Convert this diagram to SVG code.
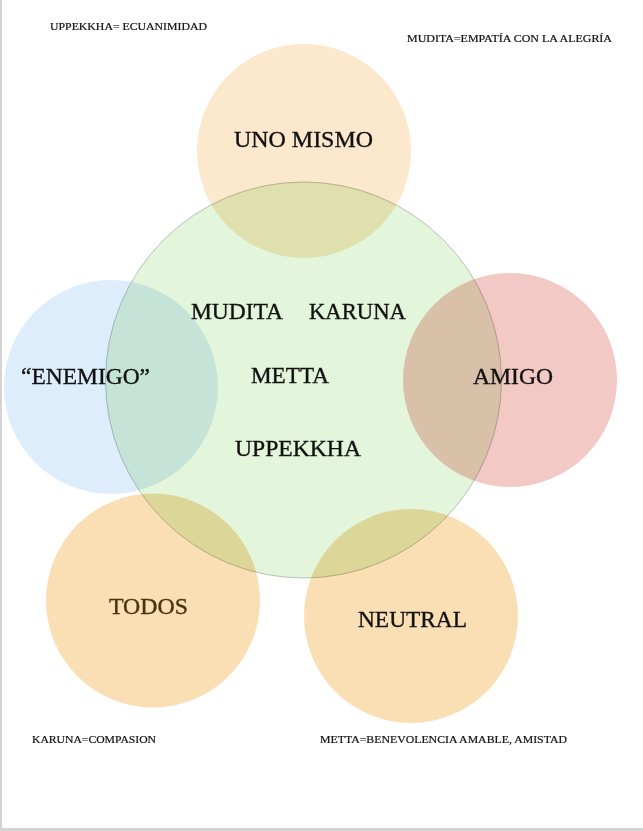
<svg xmlns="http://www.w3.org/2000/svg" width="643" height="831" viewBox="0 0 643 831">
  <style>
    .bg { fill: #ffffff; }
    .edge { fill: #d4d4d4; }
    .c { mix-blend-mode: multiply; stroke: none; }
    .center { fill: #e3f5da; stroke: #b9c2b5; stroke-width: 1; }
    .peach { fill: #fce8cc; }
    .blue { fill: #deedfc; }
    .pink { fill: #f3c9c5; }
    .orange { fill: #f9dfb3; }
    .lbl { font-family: "Liberation Serif", "Times New Roman", serif; font-size: 23.5px; fill: #111111; stroke: #111111; stroke-width: 0.35px; }
    .note { font-family: "Liberation Serif", "Times New Roman", serif; font-size: 11px; fill: #111111; stroke: #111111; stroke-width: 0.2px; }
  </style>
  <rect class="bg" x="0" y="0" width="643" height="831"/>
  <rect class="edge" x="0" y="0" width="2" height="831"/>
  <rect class="edge" x="0" y="828" width="643" height="3"/>

  <g id="center-metta">
    <circle class="center" cx="303.5" cy="380" r="198"/>
    <text class="lbl" x="191" y="319" textLength="92" lengthAdjust="spacingAndGlyphs">MUDITA</text>
    <text class="lbl" x="309" y="319" textLength="97" lengthAdjust="spacingAndGlyphs">KARUNA</text>
    <text class="lbl" x="251" y="383" textLength="78" lengthAdjust="spacingAndGlyphs">METTA</text>
    <text class="lbl" x="235" y="456" textLength="126" lengthAdjust="spacingAndGlyphs">UPPEKKHA</text>
  </g>

  <g id="node-uno-mismo">
    <circle class="c peach" cx="304" cy="151" r="107"/>
    <text class="lbl" x="234" y="147" textLength="139" lengthAdjust="spacingAndGlyphs">UNO MISMO</text>
  </g>

  <g id="node-enemigo">
    <circle class="c blue" cx="111" cy="387" r="107"/>
    <text class="lbl" x="21" y="384" textLength="129" lengthAdjust="spacingAndGlyphs">“ENEMIGO”</text>
  </g>

  <g id="node-amigo">
    <circle class="c pink" cx="510" cy="380" r="107"/>
    <text class="lbl" x="473" y="384" textLength="80" lengthAdjust="spacingAndGlyphs">AMIGO</text>
  </g>

  <g id="node-todos">
    <circle class="c orange" cx="153" cy="600.5" r="107"/>
    <text class="lbl" x="109" y="614" textLength="79" lengthAdjust="spacingAndGlyphs" style="fill:#4a3410;stroke:#4a3410">TODOS</text>
  </g>

  <g id="node-neutral">
    <circle class="c orange" cx="411" cy="616" r="107"/>
    <text class="lbl" x="358" y="627" textLength="109" lengthAdjust="spacingAndGlyphs">NEUTRAL</text>
  </g>

  <g id="connectors"/>

  <g id="notes">
    <text class="note" x="50" y="30" textLength="157" lengthAdjust="spacingAndGlyphs">UPPEKKHA= ECUANIMIDAD</text>
    <text class="note" x="407" y="42" textLength="205" lengthAdjust="spacingAndGlyphs">MUDITA=EMPATÍA CON LA ALEGRÍA</text>
    <text class="note" x="32" y="743" textLength="124" lengthAdjust="spacingAndGlyphs">KARUNA=COMPASION</text>
    <text class="note" x="320" y="743" textLength="247" lengthAdjust="spacingAndGlyphs">METTA=BENEVOLENCIA AMABLE, AMISTAD</text>
  </g>
</svg>
